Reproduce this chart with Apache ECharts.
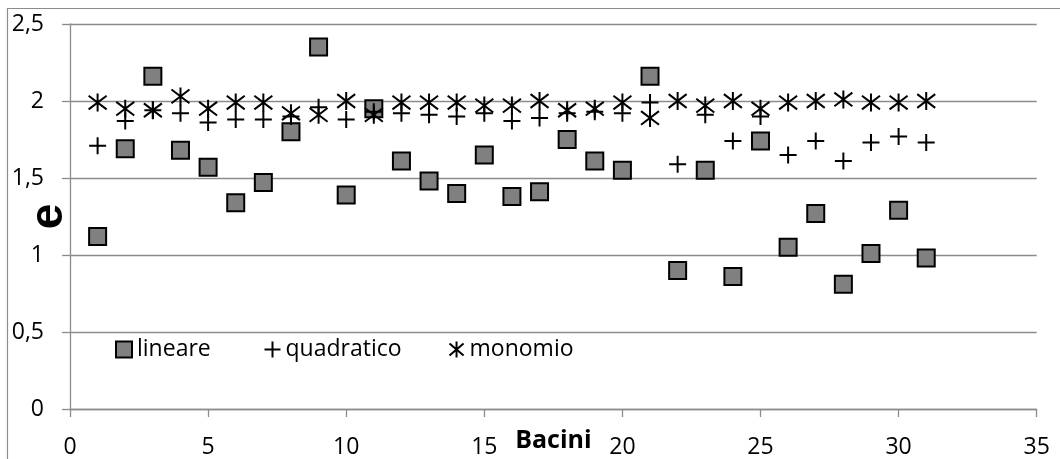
<!DOCTYPE html>
<html>
<head>
<meta charset="utf-8">
<script src="https://cdn.jsdelivr.net/npm/echarts@6/dist/echarts.min.js"></script>
<style>
html,body{margin:0;padding:0;background:#fff;}
#chart{width:1060px;height:459px;}
</style>
</head>
<body>
<div id="chart"></div>
<script>
// ---- data ----
const bacini = [1,2,3,4,5,6,7,8,9,10,11,12,13,14,15,16,17,18,19,20,21,22,23,24,25,26,27,28,29,30,31];
const lineare = [1.12,1.69,2.16,1.68,1.57,1.34,1.47,1.80,2.35,1.39,1.95,1.61,1.48,1.40,1.65,1.38,1.41,1.75,1.61,1.55,2.16,0.90,1.55,0.86,1.74,1.05,1.27,0.81,1.01,1.29,0.98];
const quadratico = [1.71,1.87,1.94,1.92,1.86,1.88,1.88,1.90,1.96,1.88,1.93,1.92,1.91,1.90,1.92,1.87,1.89,1.92,1.93,1.92,1.99,1.59,1.91,1.74,1.90,1.65,1.74,1.61,1.73,1.77,1.73];
const monomio = [1.99,1.95,1.94,2.03,1.95,1.99,1.99,1.92,1.91,2.00,1.91,1.99,1.99,1.99,1.97,1.97,2.00,1.94,1.95,1.99,1.89,2.00,1.97,2.00,1.95,1.99,2.00,2.01,1.99,1.99,2.00];
const seriesNames = ['lineare','quadratico','monomio'];
const xTitle = 'Bacini';
const yTitle = 'e';

function pairs(ys){ return bacini.map((x,i)=>[x, ys[i]]); }

const FONT = 'Open Sans';
const PLUS = 'path://M0,5L10,5M5,0L5,10';
const STAR = 'path://M0.6,1.2L9.4,8.8M9.4,1.2L0.6,8.8M5,0L5,10';
const GRAY = '#8c8c8c';

const chart = echarts.init(document.getElementById('chart'), null, {renderer:'canvas'});
const legendCommon = {
  top: 333, itemWidth: 16, itemHeight: 16, itemGap: 0,
  textStyle: {fontFamily: FONT, fontSize: 23, color: '#000'},
  selectedMode: false
};
chart.setOption({
  animation: false,
  backgroundColor: '#fff',
  graphic: [{
    type: 'rect', shape: {x: 7.5, y: 8.5, width: 1200, height: 600},
    style: {fill: 'none', stroke: GRAY, lineWidth: 1.2}, silent: true, z: -10
  }],
  grid: {left: 70, top: 24, right: 23.3, bottom: 50, containLabel: false, outerBoundsMode: 'none'},
  legend: [
    Object.assign({}, legendCommon, {left: 110, data: [seriesNames[0]]}),
    Object.assign({}, legendCommon, {left: 257, data: [seriesNames[1]]}),
    Object.assign({}, legendCommon, {left: 442, data: [seriesNames[2]]})
  ],
  xAxis: {
    type: 'value', min: 0, max: 35, interval: 5,
    name: xTitle, nameLocation: 'middle', nameGap: 19, nameMoveOverlap: false,
    nameTextStyle: {fontFamily: FONT, fontSize: 25, fontWeight: 'bold', color: '#000'},
    axisLine: {show: true, lineStyle: {color: GRAY, width: 1.3}},
    axisTick: {show: true, length: 8, lineStyle: {color: GRAY, width: 1.3}},
    axisLabel: {fontFamily: FONT, fontSize: 23, color: '#000', margin: 27},
    splitLine: {show: false}
  },
  yAxis: {
    type: 'value', min: 0, max: 2.5, interval: 0.5,
    name: yTitle, nameLocation: 'middle', nameRotate: 90, nameGap: -2, nameMoveOverlap: false,
    nameTextStyle: {fontFamily: 'Liberation Sans', fontSize: 46, fontWeight: 'bold', color: '#000'},
    axisLine: {show: true, lineStyle: {color: GRAY, width: 1.3}},
    axisTick: {show: true, length: 8, lineStyle: {color: GRAY, width: 1.3}},
    axisLabel: {fontFamily: FONT, fontSize: 23, color: '#000', margin: 26,
      formatter: v => String(v).replace('.', ',')},
    splitLine: {show: true, lineStyle: {color: GRAY, width: 1.3}}
  },
  series: [
    {name: seriesNames[0], type: 'scatter', data: pairs(lineare),
     symbol: 'rect', symbolSize: 17,
     itemStyle: {color: '#808080', borderColor: '#000', borderWidth: 2, opacity: 1}, z: 2},
    {name: seriesNames[1], type: 'scatter', data: pairs(quadratico),
     symbol: PLUS, symbolSize: 17,
     itemStyle: {color: 'none', borderColor: '#000', borderWidth: 2, opacity: 1}, z: 3},
    {name: seriesNames[2], type: 'scatter', data: pairs(monomio),
     symbol: STAR, symbolSize: 18,
     itemStyle: {color: 'none', borderColor: '#000', borderWidth: 2, opacity: 1}, z: 4}
  ]
});
</script>
</body>
</html>
